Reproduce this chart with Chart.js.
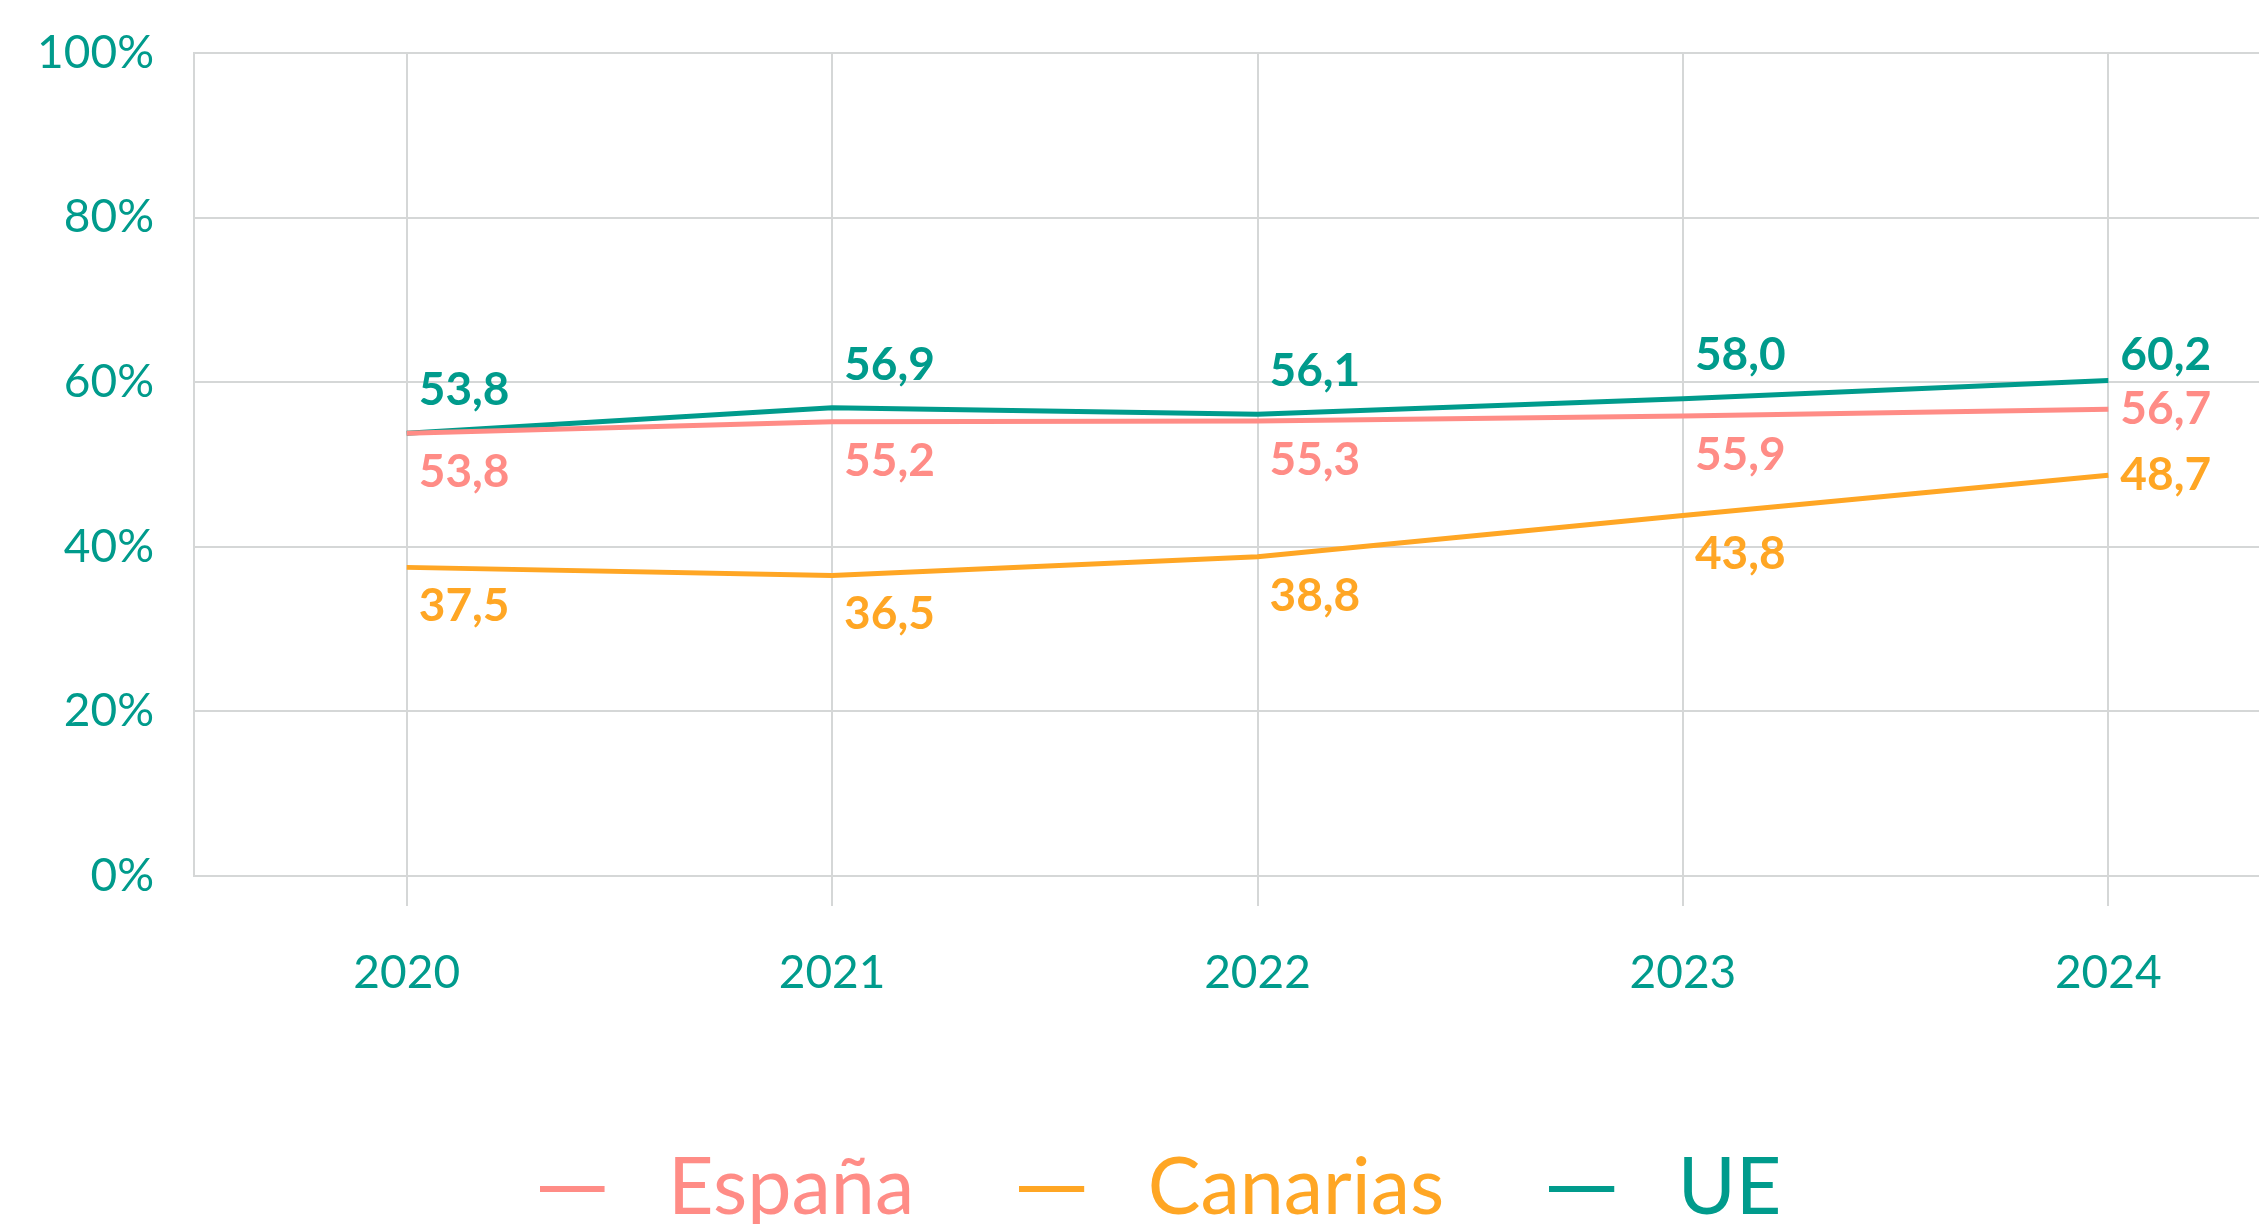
<!DOCTYPE html>
<html>
<head>
<meta charset="utf-8">
<script src="https://cdn.jsdelivr.net/npm/chart.js@4.4.1/dist/chart.umd.min.js"></script>
<style>
  html, body { margin: 0; padding: 0; background: #fff; overflow: hidden; }
  /* chart is a bit wider/taller than the window, the right edge gets cropped like the original */
  #wrap { width: 2321px; height: 1238px; position: relative; }
</style>
</head>
<body>
<div id="wrap"><canvas id="chart"></canvas></div>
<script>
const years = ['2020', '2021', '2022', '2023', '2024'];
const espana = [53.8, 55.2, 55.3, 55.9, 56.7];
const canarias = [37.5, 36.5, 38.8, 43.8, 48.7];
const ue = [53.8, 56.9, 56.1, 58.0, 60.2];
const yTicks = [0, 20, 40, 60, 80, 100];

const TEAL = '#009B8C';
const PINK = '#FF8C86';
const ORANGE = '#FFA624';
const GRID = '#D5D7D7';
const FONT = 'Lato, "Open Sans", sans-serif';

const fmtVal = v => v.toFixed(1).replace('.', ',');

// legend swatch: short line with empty space after it, so the text sits further away
function swatch(color) {
  const c = document.createElement('canvas');
  c.width = 89; c.height = 6;
  const g = c.getContext('2d');
  g.fillStyle = color;
  g.fillRect(0, 0, 65, 6);
  return c;
}

// value labels next to each point (no datalabels plugin available)
const valueLabels = {
  id: 'valueLabels',
  afterDatasetsDraw(chart) {
    const ctx = chart.ctx;
    chart.data.datasets.forEach((ds, i) => {
      const meta = chart.getDatasetMeta(i);
      const last = meta.data.length - 1;
      ctx.save();
      ctx.font = 'bold 46px ' + FONT;
      ctx.fillStyle = ds.borderColor;
      ctx.textAlign = 'left';
      ctx.textBaseline = 'middle';
      meta.data.forEach((pt, j) => {
        let dy = ds.labelSide === 'above' ? -43 : 39;
        if (j === last) dy = ds.labelSide === 'above' ? -25 : 0;
        ctx.fillText(fmtVal(ds.data[j]), pt.x + 12, pt.y + dy);
      });
      ctx.restore();
    });
  }
};

const line = (label, data, color, side) => ({
  label, data,
  borderColor: color, backgroundColor: color,
  borderWidth: 5, pointRadius: 0, tension: 0,
  labelSide: side,
});

new Chart(document.getElementById('chart'), {
  type: 'line',
  data: {
    labels: years,
    datasets: [
      line('España', espana, PINK, 'below'),
      line('Canarias', canarias, ORANGE, 'below'),
      line('UE', ue, TEAL, 'above'),
    ],
  },
  plugins: [valueLabels],
  options: {
    responsive: true, maintainAspectRatio: false, animation: false,
    layout: { padding: { top: 53, right: 0, bottom: 0, left: 0 } },
    plugins: {
      tooltip: { enabled: false },
      legend: {
        position: 'bottom',
        labels: {
          font: { family: FONT, size: 79 },
          usePointStyle: true, pointStyleWidth: 89, padding: 105,
          generateLabels: chart => Chart.defaults.plugins.legend.labels.generateLabels(chart).map(it => {
            const c = chart.data.datasets[it.datasetIndex].borderColor;
            return { ...it, fontColor: c, pointStyle: swatch(c) };
          }),
        },
      },
    },
    scales: {
      x: {
        offset: true,
        grid: { color: GRID, lineWidth: 2, tickLength: 30, offset: false },
        border: { color: GRID, width: 2 },
        ticks: { color: TEAL, padding: 40, font: { family: FONT, size: 46 } },
        afterFit: s => { s.height = 168; },
      },
      y: {
        min: 0, max: 100,
        afterBuildTicks: s => { s.ticks = yTicks.map(v => ({ value: v })); },
        grid: { color: GRID, lineWidth: 2, drawTicks: false },
        border: { color: GRID, width: 2 },
        ticks: { color: TEAL, padding: 40, font: { family: FONT, size: 46 }, callback: v => v + '%' },
        afterFit: s => { s.width = 194; s.paddingTop = 0; s.paddingBottom = 0; },
      },
    },
  },
});
</script>
</body>
</html>
